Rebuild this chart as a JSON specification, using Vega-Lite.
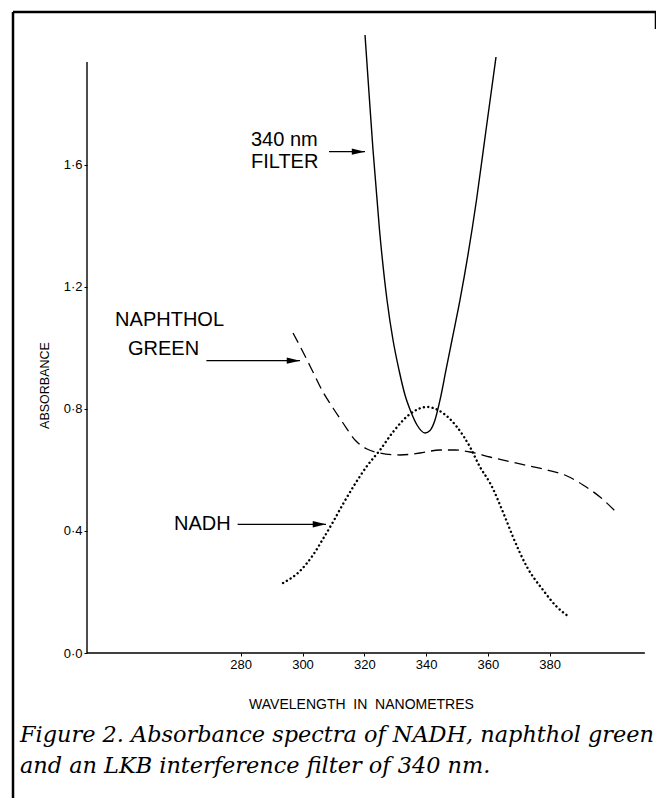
{
  "$schema": "https://vega.github.io/schema/vega-lite/v6.json",
  "autosize": "none",
  "width": 643,
  "height": 786,
  "padding": {"left": 13, "top": 12, "right": 0, "bottom": 0},
  "background": "white",
  "config": {
    "view": {"stroke": "black", "strokeWidth": 2.5, "strokeDash": [660, 1412, 786, 0]},
    "font": "Liberation Sans"
  },
  "title": {
    "text": ["Figure 2. Absorbance spectra of NADH, naphthol green", "and an LKB interference filter of 340 nm."],
    "orient": "bottom",
    "anchor": "start",
    "frame": "group",
    "offset": -74,
    "dx": 7,
    "font": "DejaVu Serif",
    "fontStyle": "italic",
    "fontWeight": "normal",
    "fontSize": 22.4,
    "lineHeight": 31,
    "color": "black",
    "baseline": "top"
  },
  "datasets": {
    "curves": [
      {"series": "filter", "wavelength": 320.23, "absorbance": 2.0262},
      {"series": "filter", "wavelength": 321.68, "absorbance": 1.8131},
      {"series": "filter", "wavelength": 322.82, "absorbance": 1.6492},
      {"series": "filter", "wavelength": 324.92, "absorbance": 1.3869},
      {"series": "filter", "wavelength": 327.35, "absorbance": 1.1574},
      {"series": "filter", "wavelength": 329.29, "absorbance": 1.0262},
      {"series": "filter", "wavelength": 331.23, "absorbance": 0.9279},
      {"series": "filter", "wavelength": 333.17, "absorbance": 0.8459},
      {"series": "filter", "wavelength": 335.11, "absorbance": 0.7902},
      {"series": "filter", "wavelength": 337.06, "absorbance": 0.7475},
      {"series": "filter", "wavelength": 339.64, "absorbance": 0.7213},
      {"series": "filter", "wavelength": 341.26, "absorbance": 0.7295},
      {"series": "filter", "wavelength": 342.88, "absorbance": 0.7639},
      {"series": "filter", "wavelength": 344.5, "absorbance": 0.8295},
      {"series": "filter", "wavelength": 346.44, "absorbance": 0.9279},
      {"series": "filter", "wavelength": 348.38, "absorbance": 1.0262},
      {"series": "filter", "wavelength": 350.97, "absorbance": 1.1574},
      {"series": "filter", "wavelength": 356.31, "absorbance": 1.4852},
      {"series": "filter", "wavelength": 359.39, "absorbance": 1.7148},
      {"series": "filter", "wavelength": 362.62, "absorbance": 1.9541},
      {"series": "naphthol", "wavelength": 296.93, "absorbance": 1.0492},
      {"series": "naphthol", "wavelength": 300.16, "absorbance": 0.9869},
      {"series": "naphthol", "wavelength": 303.4, "absorbance": 0.9213},
      {"series": "naphthol", "wavelength": 306.63, "absorbance": 0.8557},
      {"series": "naphthol", "wavelength": 309.87, "absorbance": 0.8033},
      {"series": "naphthol", "wavelength": 313.11, "absorbance": 0.7541},
      {"series": "naphthol", "wavelength": 316.99, "absorbance": 0.6984},
      {"series": "naphthol", "wavelength": 320.87, "absorbance": 0.6689},
      {"series": "naphthol", "wavelength": 325.08, "absorbance": 0.6557},
      {"series": "naphthol", "wavelength": 331.55, "absorbance": 0.6492},
      {"series": "naphthol", "wavelength": 338.03, "absorbance": 0.6557},
      {"series": "naphthol", "wavelength": 344.5, "absorbance": 0.6656},
      {"series": "naphthol", "wavelength": 349.35, "absorbance": 0.6656},
      {"series": "naphthol", "wavelength": 354.21, "absorbance": 0.659},
      {"series": "naphthol", "wavelength": 360.68, "absorbance": 0.6426},
      {"series": "naphthol", "wavelength": 370.39, "absorbance": 0.6197},
      {"series": "naphthol", "wavelength": 379.13, "absorbance": 0.6},
      {"series": "naphthol", "wavelength": 385.6, "absorbance": 0.5803},
      {"series": "naphthol", "wavelength": 390.78, "absorbance": 0.5508},
      {"series": "naphthol", "wavelength": 396.28, "absorbance": 0.5115},
      {"series": "naphthol", "wavelength": 401.78, "absorbance": 0.459},
      {"series": "nadh", "wavelength": 293.69, "absorbance": 0.2295},
      {"series": "nadh", "wavelength": 299.19, "absorbance": 0.2689},
      {"series": "nadh", "wavelength": 303.4, "absorbance": 0.3213},
      {"series": "nadh", "wavelength": 306.63, "absorbance": 0.3738},
      {"series": "nadh", "wavelength": 309.87, "absorbance": 0.4295},
      {"series": "nadh", "wavelength": 313.11, "absorbance": 0.4885},
      {"series": "nadh", "wavelength": 316.99, "absorbance": 0.5541},
      {"series": "nadh", "wavelength": 320.87, "absorbance": 0.6131},
      {"series": "nadh", "wavelength": 325.08, "absorbance": 0.6656},
      {"series": "nadh", "wavelength": 329.29, "absorbance": 0.7246},
      {"series": "nadh", "wavelength": 334.79, "absorbance": 0.7836},
      {"series": "nadh", "wavelength": 340.29, "absorbance": 0.8066},
      {"series": "nadh", "wavelength": 343.85, "absorbance": 0.7967},
      {"series": "nadh", "wavelength": 350.0, "absorbance": 0.741},
      {"series": "nadh", "wavelength": 354.21, "absorbance": 0.6754},
      {"series": "nadh", "wavelength": 357.44, "absorbance": 0.6098},
      {"series": "nadh", "wavelength": 360.68, "absorbance": 0.5574},
      {"series": "nadh", "wavelength": 365.53, "absorbance": 0.4459},
      {"series": "nadh", "wavelength": 368.12, "absorbance": 0.3803},
      {"series": "nadh", "wavelength": 372.65, "absorbance": 0.282},
      {"series": "nadh", "wavelength": 377.83, "absorbance": 0.2066},
      {"series": "nadh", "wavelength": 382.36, "absorbance": 0.1508},
      {"series": "nadh", "wavelength": 385.92, "absorbance": 0.1213}
    ],
    "axislines": [
      {"wavelength": 230.26, "absorbance": 0, "wavelength_end": 410.8, "absorbance_end": 0},
      {"wavelength": 230.26, "absorbance": 0, "wavelength_end": 230.26, "absorbance_end": 1.9377}
    ],
    "labels": [
      {"text": "340 nm", "wavelength": 283.33, "absorbance": 1.682},
      {"text": "FILTER", "wavelength": 283.33, "absorbance": 1.611},
      {"text": "NAPHTHOL", "wavelength": 239.35, "absorbance": 1.0918},
      {"text": "GREEN", "wavelength": 243.53, "absorbance": 0.9967},
      {"text": "NADH", "wavelength": 258.41, "absorbance": 0.423}
    ],
    "arrows": [
      {"wavelength": 320.23, "tail": 308.58, "absorbance": 1.6436},
      {"wavelength": 299.19, "tail": 268.9, "absorbance": 0.9584},
      {"wavelength": 307.6, "tail": 279.0, "absorbance": 0.422}
    ]
  },
  "encoding": {
    "x": {
      "field": "wavelength",
      "type": "quantitative",
      "scale": {"domain": [206.31, 414.4], "nice": false, "zero": false},
      "axis": {
        "title": "WAVELENGTH \u00a0IN \u00a0NANOMETRES",
        "values": [280, 300, 320, 340, 360, 380],
        "format": "d",
        "offset": -145,
        "domain": false,
        "grid": false,
        "tickSize": 3,
        "tickColor": "black",
        "labelColor": "black",
        "labelFont": "Liberation Sans",
        "labelFontSize": 13,
        "labelPadding": 2,
        "titleFont": "Liberation Sans",
        "titleFontSize": 14,
        "titleFontWeight": "normal",
        "titleColor": "black",
        "titleX": 348,
        "titleY": 51,
        "titleAlign": "center",
        "titleBaseline": "middle"
      }
    },
    "y": {
      "field": "absorbance",
      "type": "quantitative",
      "scale": {"domain": [-0.4754, 2.1016], "nice": false, "zero": false},
      "axis": {
        "title": "ABSORBANCE",
        "values": [0, 0.4, 0.8, 1.2, 1.6],
        "format": ".1f",
        "labelExpr": "replace(datum.label, '.', '·')",
        "offset": -74,
        "domain": false,
        "grid": false,
        "tickSize": 3,
        "tickColor": "black",
        "labelColor": "black",
        "labelFont": "Liberation Sans",
        "labelFontSize": 13,
        "labelPadding": 2,
        "titleFont": "Liberation Sans",
        "titleFontSize": 12.5,
        "titleFontWeight": "normal",
        "titleColor": "black",
        "titleX": -43,
        "titleY": 373,
        "titleAngle": -90,
        "titleAlign": "center",
        "titleBaseline": "middle"
      }
    }
  },
  "layer": [
    {
      "data": {"name": "axislines"},
      "mark": {"type": "rule", "color": "black", "strokeWidth": 1.4},
      "encoding": {
        "x2": {"field": "wavelength_end"},
        "y2": {"field": "absorbance_end"}
      }
    },
    {
      "data": {"name": "curves"},
      "transform": [{"filter": "datum.series === 'filter'"}],
      "mark": {"type": "line", "interpolate": "monotone", "color": "black", "strokeWidth": 1.4}
    },
    {
      "data": {"name": "curves"},
      "transform": [{"filter": "datum.series === 'naphthol'"}],
      "mark": {"type": "line", "interpolate": "monotone", "color": "black", "strokeWidth": 1.3, "strokeDash": [11, 6]}
    },
    {
      "data": {"name": "curves"},
      "transform": [{"filter": "datum.series === 'nadh'"}],
      "mark": {"type": "line", "interpolate": "monotone", "color": "black", "strokeWidth": 2.4, "strokeDash": [0.1, 4.3], "strokeCap": "round"}
    },
    {
      "data": {"name": "arrows"},
      "mark": {"type": "rule", "color": "black", "strokeWidth": 1.3},
      "encoding": {"x2": {"field": "tail"}}
    },
    {
      "data": {"name": "arrows"},
      "mark": {"type": "point", "shape": "M0,0L-1,-0.24L-1,0.24Z", "size": 700, "filled": true, "color": "black", "opacity": 1}
    },
    {
      "data": {"name": "labels"},
      "mark": {"type": "text", "align": "left", "baseline": "middle", "font": "Liberation Sans", "fontSize": 20, "color": "black"},
      "encoding": {"text": {"field": "text", "type": "nominal"}}
    }
  ]
}
